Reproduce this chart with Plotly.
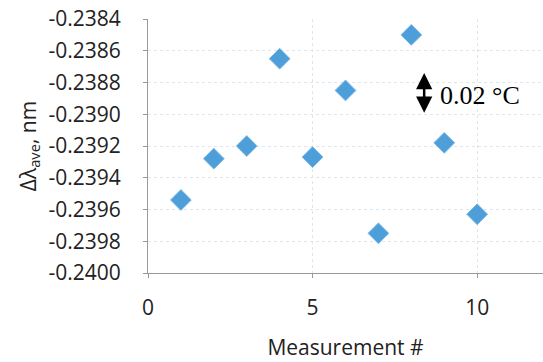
import plotly.graph_objects as go

measurement = [1, 2, 3, 4, 5, 6, 7, 8, 9, 10]
delta_lambda = [-0.23954, -0.23928, -0.23920, -0.23865, -0.23927,
                -0.23885, -0.23975, -0.23850, -0.23918, -0.23963]
y_ticks = [-0.2384, -0.2386, -0.2388, -0.2390, -0.2392, -0.2394, -0.2396, -0.2398, -0.2400]
y_tick_labels = ["%.4f" % v for v in y_ticks]
x_ticks = [0, 5, 10]

fig = go.Figure()
fig.add_trace(go.Scatter(
    x=measurement, y=delta_lambda, mode="markers",
    marker=dict(symbol="diamond", size=16, color="#4d9ed9",
                line=dict(color="#7fbbe6", width=1)),
    showlegend=False,
))

# double-headed arrow indicating 0.02 °C
arrow_x = 8.39
arrow_top = -0.23873
arrow_bot = -0.23899
fig.add_annotation(x=arrow_x, y=arrow_bot, ax=arrow_x, ay=arrow_top,
                   xref="x", yref="y", axref="x", ayref="y",
                   showarrow=True, arrowhead=2, startarrowhead=2,
                   arrowside="end+start", arrowsize=1.3, arrowwidth=2.5,
                   arrowcolor="black", text="")
fig.add_annotation(x=8.80, y=-0.238885, xref="x", yref="y", text="0.02 °C",
                   showarrow=False, xanchor="left",
                   font=dict(family="Liberation Serif", size=26, color="black"))

axis_font = dict(family="Open Sans", size=21, color="#222222")
title_font = dict(family="Open Sans", size=21, color="#222222")
fig.update_layout(
    width=543, height=362,
    margin=dict(l=148, r=0, t=19, b=89),
    paper_bgcolor="white", plot_bgcolor="white",
    xaxis=dict(range=[0, 12], tickvals=x_ticks, ticks="outside", ticklen=4,
               tickcolor="#999999", showline=True, linecolor="#999999",
               showgrid=True, gridcolor="#dbe6ee", griddash="dot",
               zeroline=False, tickfont=axis_font, ticklabelstandoff=12,
               title=dict(text="Measurement #", font=title_font, standoff=20)),
    yaxis=dict(range=[-0.2400, -0.2384], tickvals=y_ticks, ticktext=y_tick_labels,
               ticks="outside", ticklen=4, tickcolor="#999999",
               showline=True, linecolor="#999999",
               showgrid=True, gridcolor="#dbe6ee", griddash="dot",
               zeroline=False, tickfont=axis_font, ticklabelstandoff=18,
               title=dict(text="Δλ<sub>ave</sub>, nm", font=title_font, standoff=6)),
)
fig.write_html("out.html")
